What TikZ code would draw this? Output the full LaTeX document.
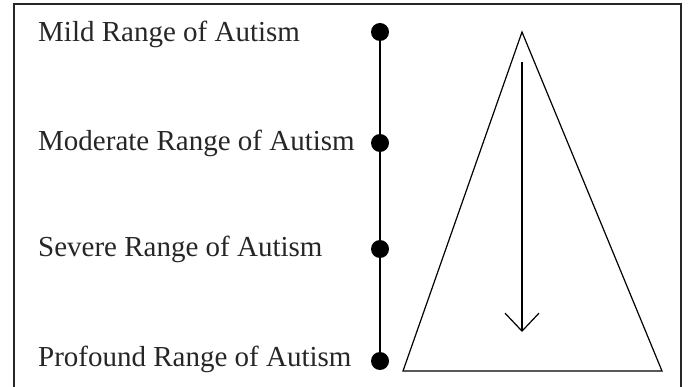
\documentclass[tikz,border=0pt]{standalone}
\usepackage{fontspec}
\setmainfont{Liberation Serif}
\usetikzlibrary{arrows.meta}

\begin{document}
\begin{tikzpicture}[x=1pt, y=-1pt, >={Straight Barb[length=18pt, width=34pt]}]

\useasboundingbox (0,0) rectangle (696,387);

% ==== FRAME (open at the bottom) ====
\draw[line width=1.3pt, black!85] (14,387) -- (14,4) -- (681,4) -- (681,387);

\tikzset{
    dot/.style={circle, fill=black, inner sep=0pt, minimum size=18pt},
    rangelabel/.style={anchor=base west, inner sep=0pt, font=\fontsize{29}{31}\selectfont, text=black!85}
}

% ==== SCALE OF RANGES ====
\node[dot] (mild)     at (380,32)  {};
\node[dot] (moderate) at (380,143) {};
\node[dot] (severe)   at (380,249) {};
\node[dot] (profound) at (380,361) {};

\draw[line width=1.3pt] (mild) -- (moderate) -- (severe) -- (profound);

\node[rangelabel] (mildtext)     at (38,42)  {Mild Range of Autism};
\node[rangelabel] (moderatetext) at (38,151) {Moderate Range of Autism};
\node[rangelabel] (severetext)   at (38,257) {Severe Range of Autism};
\node[rangelabel] (profoundtext) at (38,366) {Profound Range of Autism};

% ==== TRIANGLE ====
\draw[line width=1.2pt, line join=miter] (522,32) -- (662,371) -- (403,371) -- cycle;

% ==== ARROW ====
\coordinate (arrowtop) at (522,62);
\coordinate (arrowbot) at (522,332);
\draw[->, line width=1.2pt] (arrowtop) -- (arrowbot);

\end{tikzpicture}
\end{document}
